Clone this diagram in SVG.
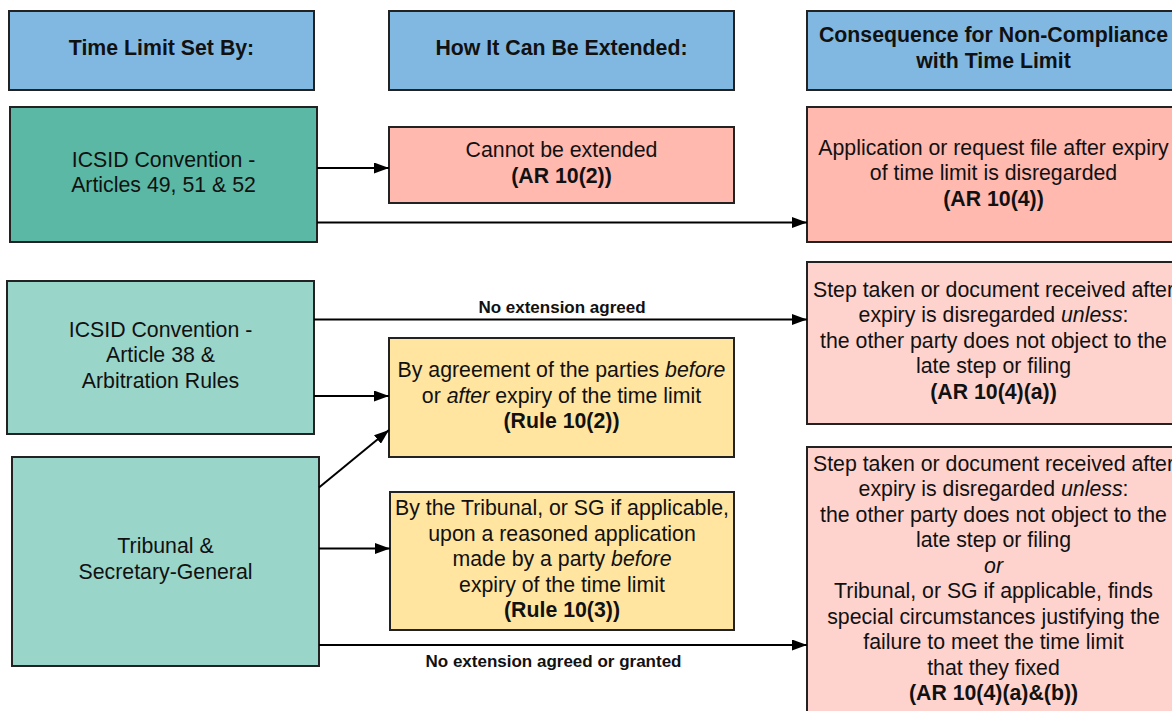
<svg xmlns="http://www.w3.org/2000/svg" width="1172" height="711" viewBox="0 0 1172 711">
<defs>
<marker id="ah" markerUnits="userSpaceOnUse" markerWidth="15" markerHeight="11" refX="15" refY="5.5" orient="auto">
<path d="M0,0 L15,5.5 L0,11 z" fill="#000"/>
</marker>
<style>
.box{stroke:#222;stroke-width:2}
.hdr{fill:#81b8e2}
.teal1{fill:#5bb8a5}
.teal2{fill:#9ad5ca}
.pink1{fill:#ffb9af}
.pink2{fill:#ffd3cd}
.yel{fill:#ffe5a0}
text{font-family:"Liberation Sans",Arial,sans-serif;font-size:21.3px;fill:#111;text-anchor:middle}
.b{font-weight:bold}
.i{font-style:italic}
.lbl{font-size:17px;font-weight:bold}
.conn{stroke:#000;stroke-width:2;fill:none;marker-end:url(#ah)}
</style>
</defs>
<rect width="1172" height="711" fill="#fff"/>

<g id="hdr1">
<rect class="box hdr" x="9" y="11" width="305" height="79"/>
<text class="b" x="161.5" y="55">Time Limit Set By:</text>
</g>
<g id="hdr2">
<rect class="box hdr" x="389" y="11" width="345" height="79"/>
<text class="b" x="561.5" y="55">How It Can Be Extended:</text>
</g>
<g id="hdr3">
<rect class="box hdr" x="807" y="11" width="373" height="79"/>
<text class="b" x="993.5" y="42">Consequence for Non-Compliance</text>
<text class="b" x="993.5" y="68">with Time Limit</text>
</g>

<g id="icsid1">
<rect class="box teal1" x="10" y="107" width="307" height="135"/>
<text x="163.5" y="167">ICSID Convention -</text>
<text x="163.5" y="192">Articles 49, 51 &amp; 52</text>
</g>
<g id="noext">
<rect class="box pink1" x="389" y="127" width="345" height="76"/>
<text x="561.5" y="157">Cannot be extended</text>
<text class="b" x="561.5" y="182.5">(AR 10(2))</text>
</g>
<g id="cons1">
<rect class="box pink1" x="807" y="107" width="373" height="135"/>
<text x="993.5" y="155">Application or request file after expiry</text>
<text x="993.5" y="180">of time limit is disregarded</text>
<text class="b" x="993.5" y="206">(AR 10(4))</text>
</g>

<g id="icsid2">
<rect class="box teal2" x="7" y="281" width="307" height="153"/>
<text x="160.5" y="337">ICSID Convention -</text>
<text x="160.5" y="362">Article 38 &amp;</text>
<text x="160.5" y="388">Arbitration Rules</text>
</g>
<g id="agree">
<rect class="box yel" x="389" y="338" width="345" height="119"/>
<text x="561.5" y="377">By agreement of the parties <tspan class="i">before</tspan></text>
<text x="561.5" y="403">or <tspan class="i">after</tspan> expiry of the time limit</text>
<text class="b" x="561.5" y="428">(Rule 10(2))</text>
</g>
<g id="cons2">
<rect class="box pink2" x="807" y="262" width="373" height="162"/>
<text x="993.5" y="297">Step taken or document received after</text>
<text x="993.5" y="322">expiry is disregarded <tspan class="i">unless</tspan>:</text>
<text x="993.5" y="348">the other party does not object to the</text>
<text x="993.5" y="373">late step or filing</text>
<text class="b" x="993.5" y="399">(AR 10(4)(a))</text>
</g>

<g id="tribunal">
<rect class="box teal2" x="12" y="457" width="307" height="209"/>
<text x="165.5" y="553">Tribunal &amp;</text>
<text x="165.5" y="579">Secretary-General</text>
</g>
<g id="granted">
<rect class="box yel" x="390" y="492" width="344" height="138"/>
<text x="562" y="515">By the Tribunal, or SG if applicable,</text>
<text x="562" y="541">upon a reasoned application</text>
<text x="562" y="566">made by a party <tspan class="i">before</tspan></text>
<text x="562" y="592">expiry of the time limit</text>
<text class="b" x="562" y="617">(Rule 10(3))</text>
</g>
<g id="cons3">
<rect class="box pink2" x="807" y="447" width="373" height="280"/>
<text x="993.5" y="470.5">Step taken or document received after</text>
<text x="993.5" y="496">expiry is disregarded <tspan class="i">unless</tspan>:</text>
<text x="993.5" y="521.5">the other party does not object to the</text>
<text x="993.5" y="547">late step or filing</text>
<text class="i" x="993.5" y="572.5">or</text>
<text x="993.5" y="598">Tribunal, or SG if applicable, finds</text>
<text x="993.5" y="623.5">special circumstances justifying the</text>
<text x="993.5" y="649">failure to meet the time limit</text>
<text x="993.5" y="674.5">that they fixed</text>
<text class="b" x="993.5" y="700">(AR 10(4)(a)&amp;(b))</text>
</g>

<g id="connectors">
<line class="conn" x1="317" y1="168" x2="389" y2="168"/>
<line class="conn" x1="317" y1="222.5" x2="807" y2="222.5"/>
<line class="conn" x1="314" y1="319.5" x2="807" y2="319.5"/>
<text class="lbl" x="562" y="313">No extension agreed</text>
<line class="conn" x1="314" y1="396" x2="389" y2="396"/>
<line class="conn" x1="319" y1="487.5" x2="389" y2="430"/>
<line class="conn" x1="319" y1="548.5" x2="390" y2="548.5"/>
<line class="conn" x1="319" y1="645" x2="807" y2="645"/>
<text class="lbl" x="553.5" y="667">No extension agreed or granted</text>
</g>
</svg>
